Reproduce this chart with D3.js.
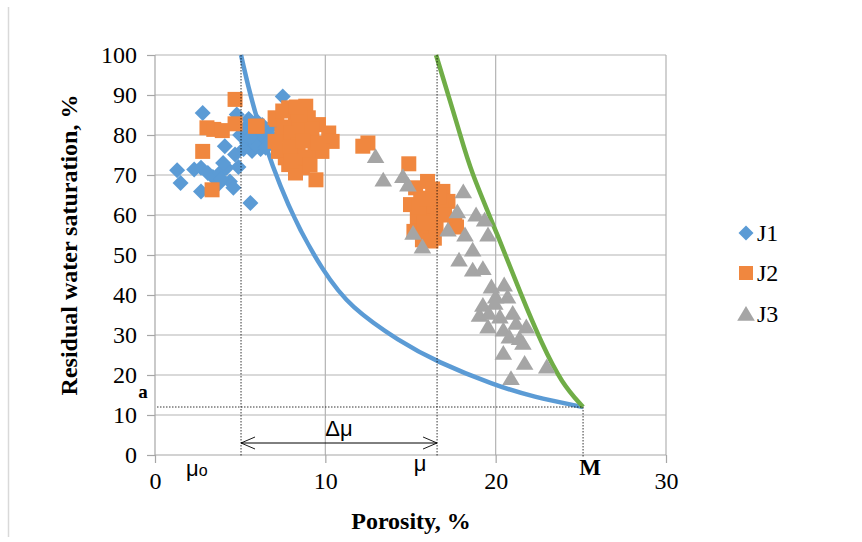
<!DOCTYPE html>
<html>
<head>
<meta charset="utf-8">
<script src="https://cdn.jsdelivr.net/npm/d3@7/dist/d3.min.js"></script>
<style>
  body { margin: 0; background: #fff; }
  svg { display: block; }
</style>
</head>
<body>
<svg id="chart" width="862" height="542"></svg>
<script>
// ---- data ----
const xTicks = [0, 10, 20, 30];
const yTicks = [0, 10, 20, 30, 40, 50, 60, 70, 80, 90, 100];
const seriesNames = ["J1", "J2", "J3"];

const J1 = [
  [1.3,71.2],[1.5,68.0],[2.3,71.4],[2.7,71.8],[2.8,85.5],[2.7,65.9],[3.1,70.5],[3.4,69.5],
  [3.7,67.6],[3.8,70.5],[4.1,77.2],[4.2,71.8],[4.4,68.4],[4.6,66.8],[4.7,75.1],[4.8,85.1],
  [5.0,80.0],[5.3,81.8],[5.4,78.0],[5.6,63.0],[5.7,76.0],[5.8,80.0],[6.0,83.4],[6.1,78.5],
  [6.2,76.5],[6.4,80.0],[6.6,78.0],[6.8,82.0],[7.0,79.0],[7.5,89.6],[5.5,84.0],[4.9,72.0],
  [4.0,73.0],[3.9,69.0],[5.2,76.5],[6.3,82.5],[5.9,77.5],[6.5,76.8],[5.6,79.5]
];
const J2 = [
  [4.7,88.9],[3.05,81.8],[3.45,81.4],[3.95,81.1],[4.7,82.8],[5.9,82.2],[2.8,75.9],[3.35,66.3],
  [7.85,86.8],[8.85,87.2],[7.05,84.3],[8.25,83.4],[9.0,84.3],[9.6,82.6],[10.2,80.5],[10.4,78.4],
  [7.45,80.1],[8.45,80.1],[9.2,79.3],[7.25,75.9],[8.25,75.9],[9.4,76.8],[7.85,72.6],[8.65,71.8],
  [8.25,70.5],[9.45,68.8],[7.65,74.3],[9.8,75.9],[7.05,78.4],[8.05,78.0],[9.0,74.3],[7.15,83.9],
  [7.35,76.3],[6.0,82.2],[7.6,82.0],[8.0,80.5],[8.6,82.0],[9.2,81.5],[8.4,77.5],[7.9,77.0],
  [8.8,74.5],[9.6,78.0],[8.5,85.0],[7.5,86.0],[8.3,87.0],[8.0,73.5],[9.1,72.5],[8.7,78.5],
  [12.5,78.0],[12.2,77.2],[14.9,72.8],
  [16.0,68.4],[15.3,66.8],[16.9,65.9],[15.6,64.2],[16.4,63.4],[17.2,63.4],[15.0,62.6],[15.8,60.9],
  [16.6,60.1],[15.4,59.2],[16.2,58.4],[15.2,55.9],[16.0,55.9],[17.6,57.6],[16.4,54.2],[15.7,53.8],
  [16.8,61.8],[17.7,57.0],[16.3,66.5],[15.5,62.0],[16.5,57.0],[15.9,64.0],[17.0,60.0],[16.2,53.5],
  [15.8,58.0],[16.7,64.5]
];
const J3 = [
  [12.95,74.7],[13.4,68.8],[14.55,69.7],[14.85,67.6],[15.15,55.5],[15.7,52.1],[17.2,56.3],
  [17.75,60.9],[18.1,65.9],[18.2,55.1],[18.85,60.1],[19.35,58.8],[19.55,55.1],[18.65,51.3],
  [17.85,48.8],[18.65,46.3],[19.25,46.7],[19.75,42.1],[20.5,42.6],[20.7,39.6],[19.25,37.5],
  [19.95,38.0],[19.05,35.0],[20.25,34.6],[21.0,35.5],[19.55,32.1],[20.45,31.3],[20.8,29.6],
  [21.4,29.2],[21.8,32.1],[21.6,28.0],[20.45,25.5],[21.7,23.0],[23.0,22.1],[20.9,19.2],
  [20.0,39.6],[19.6,35.5],[21.2,33.0]
];
// fitted curves, points
const blueCurve = [
  [5.05,100],[5.87,84.5],[7.81,61.3],[9.92,45.5],[11.45,37.0],[14.39,28.3],[16.56,23.3],
  [19.9,17.5],[22.2,14.5],[25.13,12.0]
];
const greenCurve = [
  [16.5,100],[17.9,80.5],[18.5,71.3],[20.16,54.6],[21.53,39.6],[22.7,27.9],[23.88,17.9],[25.13,12.0]
];
// reference markers
const mu0 = 5.05, mu = 16.56, Mx = 25.13, aY = 12;

// ---- drawing ----
const svg = d3.select("#chart");
svg.append("rect").attr("width", 862).attr("height", 542).attr("fill", "#fff");
// chart frame edge
svg.append("line").attr("x1", 8.5).attr("x2", 8.5).attr("y1", 7).attr("y2", 537)
  .attr("stroke", "#d9d9d9").attr("stroke-width", 1.5);

const x = d3.scaleLinear().domain([0, 30]).range([155, 666]);
const y = d3.scaleLinear().domain([0, 100]).range([455, 55]);

const serif = "'Liberation Serif', 'Times New Roman', serif";
const sans = "'Liberation Sans', Arial, sans-serif";

const gridColor = "#b3b3b3";
svg.append("g").selectAll("line").data(yTicks.filter(d => d > 0)).join("line")
  .attr("x1", x(0)).attr("x2", x(30)).attr("y1", d => y(d)).attr("y2", d => y(d))
  .attr("stroke", gridColor).attr("stroke-width", 1.2);
svg.append("g").selectAll("line").data(xTicks.filter(d => d > 0)).join("line")
  .attr("y1", y(0)).attr("y2", y(100)).attr("x1", d => x(d)).attr("x2", d => x(d))
  .attr("stroke", gridColor).attr("stroke-width", 1.2);

// axes
const yAxis = d3.axisLeft(y).tickValues(yTicks).tickSize(8).tickPadding(10);
const xAxis = d3.axisBottom(x).tickValues(xTicks).tickSize(8).tickPadding(9);
const gy = svg.append("g").attr("transform", `translate(${x(0)},0)`).call(yAxis);
const gx = svg.append("g").attr("transform", `translate(0,${y(0)})`).call(xAxis);
[gx, gy].forEach(g => {
  g.select(".domain").attr("stroke", "#a6a6a6").attr("stroke-width", 1.2);
  g.selectAll(".tick line").attr("stroke", "#a6a6a6").attr("stroke-width", 1.2);
  g.selectAll(".tick text").attr("font-family", serif).attr("font-size", 24).attr("fill", "#000");
});
gy.select(".domain").attr("d", `M0,${y(100)}V${y(0)}`);
gx.select(".domain").attr("d", `M${x(0)},0H${x(30)}`);

// curves
const line = d3.line().x(d => x(d[0])).y(d => y(d[1])).curve(d3.curveBasis);
svg.append("path").datum(blueCurve).attr("d", line).attr("fill", "none")
  .attr("stroke", "#5B9BD5").attr("stroke-width", 4.5);
svg.append("path").datum(greenCurve).attr("d", line).attr("fill", "none")
  .attr("stroke", "#70AD47").attr("stroke-width", 4.5);

// marker shapes
const diamond = r => `M0,${-r}L${r},0L0,${r}L${-r},0Z`;
const square = r => `M${-r},${-r}H${r}V${r}H${-r}Z`;
const triangle = r => `M0,${-r}L${r*1.1},${r*0.85}H${-r*1.1}Z`;

const seriesDefs = [
  { data: J1, color: "#5B9BD5", path: diamond(8) },
  { data: J2, color: "#F0873F", path: square(7.5) },
  { data: J3, color: "#A5A5A5", path: triangle(8) }
];
seriesDefs.forEach(s => {
  svg.append("g").selectAll("path").data(s.data).join("path")
    .attr("d", s.path)
    .attr("transform", d => `translate(${x(d[0])},${y(d[1])})`)
    .attr("fill", s.color);
});

// dashed reference lines
function dline(x1, y1, x2, y2) {
  svg.append("line").attr("x1", x1).attr("y1", y1).attr("x2", x2).attr("y2", y2)
    .attr("stroke", "#000").attr("stroke-width", 0.8).attr("stroke-dasharray", "1.5,1.5");
}
dline(x(mu0), y(100), x(mu0), y(0) + 2);
dline(x(mu), y(100), x(mu), y(0) + 2);
dline(x(Mx), y(aY), x(Mx), y(0) + 2);
dline(x(0) + 2, y(aY), x(Mx), y(aY));

// Δμ arrow
const ay = 443;
svg.append("line").attr("x1", x(mu0)).attr("x2", x(mu)).attr("y1", ay).attr("y2", ay)
  .attr("stroke", "#000").attr("stroke-width", 1);
svg.append("path")
  .attr("d", `M${x(mu0) + 14},${ay - 6}L${x(mu0)},${ay}L${x(mu0) + 14},${ay + 6}`)
  .attr("fill", "none").attr("stroke", "#000").attr("stroke-width", 0.9);
svg.append("path")
  .attr("d", `M${x(mu) - 14},${ay - 6}L${x(mu)},${ay}L${x(mu) - 14},${ay + 6}`)
  .attr("fill", "none").attr("stroke", "#000").attr("stroke-width", 0.9);

svg.append("text").attr("x", (x(mu0) + x(mu)) / 2).attr("y", 436)
  .attr("text-anchor", "middle").attr("font-family", sans).attr("font-size", 22).text("Δμ");

// μo, μ, M, a labels
const t0 = svg.append("text").attr("x", 186).attr("y", 476).attr("font-family", sans).attr("font-size", 22);
t0.append("tspan").text("μ");
t0.append("tspan").attr("font-size", 16).text("o");
svg.append("text").attr("x", 420).attr("y", 471).attr("text-anchor", "middle")
  .attr("font-family", sans).attr("font-size", 22).text("μ");
svg.append("text").attr("x", 590).attr("y", 475).attr("text-anchor", "middle")
  .attr("font-family", serif).attr("font-weight", "bold").attr("font-size", 23).text("M");
svg.append("text").attr("x", 143).attr("y", 398).attr("text-anchor", "middle")
  .attr("font-family", serif).attr("font-weight", "bold").attr("font-size", 19).text("a");

// axis titles
svg.append("text").attr("x", 411).attr("y", 529).attr("text-anchor", "middle")
  .attr("font-family", serif).attr("font-weight", "bold").attr("font-size", 24).text("Porosity, %");
svg.append("text").attr("transform", "translate(77,245) rotate(-90)").attr("text-anchor", "middle")
  .attr("font-family", serif).attr("font-weight", "bold").attr("font-size", 24)
  .text("Residual water saturation, %");

// legend
const legendY = [233, 273, 314];
seriesDefs.forEach((s, i) => {
  const lp = i === 0 ? diamond(7.5) : i === 1 ? square(7) : triangle(8);
  svg.append("path").attr("d", lp).attr("fill", s.color)
    .attr("transform", `translate(746,${legendY[i]})`);
  svg.append("text").attr("x", 757).attr("y", legendY[i] + 8)
    .attr("font-family", serif).attr("font-size", 24).text(seriesNames[i]);
});
</script>
</body>
</html>
